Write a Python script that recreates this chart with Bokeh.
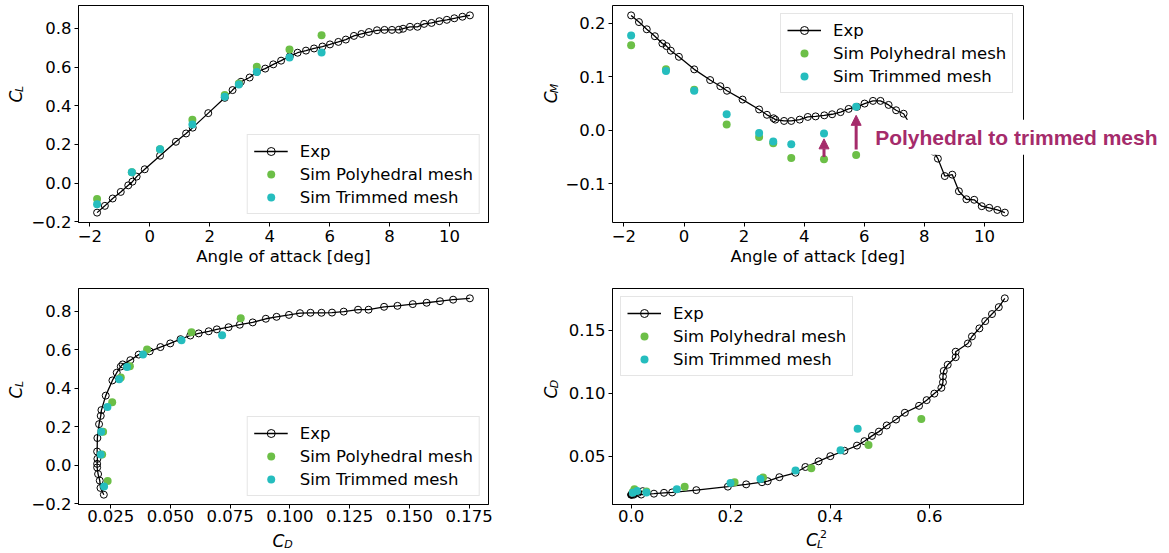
import numpy as np
from bokeh.plotting import figure
from bokeh.layouts import column, row
from bokeh.models import Range1d, FixedTicker, Label, Arrow, NormalHead, Span, LinearAxis, Title
from bokeh.embed import file_html
from bokeh.resources import INLINE

# ---------------- data ----------------
exp_alpha = [-1.76, -1.50, -1.24, -0.97, -0.72, -0.58, -0.44, -0.17, 0.34, 0.87, 1.21, 1.43, 1.95, 2.50,
             2.76, 2.98, 3.04, 3.33, 3.57, 3.85, 4.12, 4.38, 4.67, 4.93, 5.21, 5.48, 5.76, 6.01, 6.29, 6.54,
             6.81, 7.06, 7.31, 7.58, 7.83, 8.08, 8.31, 8.45, 8.68, 8.93, 9.15, 9.40, 9.66, 9.91, 10.16,
             10.43, 10.68]
exp_cl = [-0.152, -0.117, -0.079, -0.045, -0.011, 0.008, 0.034, 0.072, 0.142, 0.214, 0.257, 0.287, 0.362,
          0.441, 0.481, 0.513, 0.524, 0.546, 0.575, 0.592, 0.614, 0.633, 0.655, 0.674, 0.685, 0.696, 0.706,
          0.717, 0.730, 0.742, 0.761, 0.771, 0.781, 0.790, 0.792, 0.792, 0.793, 0.798, 0.808, 0.808, 0.823,
          0.828, 0.837, 0.844, 0.852, 0.860, 0.867]
exp_cm = [0.215, 0.2025, 0.189, 0.176, 0.1625, 0.1575, 0.149, 0.1375, 0.114, 0.094, 0.0825, 0.074, 0.0575,
          0.039, 0.029, 0.0225, 0.020, 0.0175, 0.0175, 0.020, 0.025, 0.026, 0.028, 0.030, 0.034, 0.040,
          0.044, 0.050, 0.055, 0.055, 0.0475, 0.0375, 0.031, 0.006, -0.012, -0.028, -0.040, -0.053,
          -0.0856, -0.083, -0.114, -0.129, -0.130, -0.142, -0.145, -0.149, -0.154]
exp_cd = [0.0221, 0.0207, 0.0204, 0.0197, 0.0193, 0.0193, 0.0194, 0.0193, 0.0194, 0.0201, 0.0208, 0.0211,
          0.0229, 0.0257, 0.0275, 0.0292, 0.0300, 0.0332, 0.0367, 0.0413, 0.0458, 0.0499, 0.0542, 0.0583,
          0.0618, 0.0660, 0.0694, 0.0743, 0.0790, 0.0844, 0.0899, 0.0944, 0.0996, 0.1042, 0.1086, 0.1132,
          0.1176, 0.1225, 0.1285, 0.1329, 0.1394, 0.1450, 0.1514, 0.1572, 0.1628, 0.1683, 0.1753]

sim_alpha = [-1.76, -0.60, 0.34, 1.42, 2.50, 2.97, 3.57, 4.66, 5.73]
poly_cl = [-0.081, 0.057, 0.175, 0.328, 0.456, 0.515, 0.602, 0.691, 0.764]
poly_cm = [0.159, 0.114, 0.076, 0.011, -0.0125, -0.024, -0.052, -0.054, -0.046]
poly_cd = [0.0237, 0.0214, 0.0218, 0.0256, 0.0292, 0.0330, 0.0402, 0.0588, 0.0794]
trim_cl = [-0.109, 0.057, 0.175, 0.303, 0.447, 0.510, 0.575, 0.649, 0.675]
trim_cm = [0.1775, 0.111, 0.074, 0.030, -0.005, -0.021, -0.026, -0.006, 0.044]
trim_cd = [0.0222, 0.0208, 0.0210, 0.0236, 0.0285, 0.0318, 0.0385, 0.0546, 0.0716]

exp_cl2 = [c * c for c in exp_cl]
poly_cl2 = [c * c for c in poly_cl]
trim_cl2 = [c * c for c in trim_cl]

alpha_ticks = [-2, 0, 2, 4, 6, 8, 10]
cl_ticks = [-0.2, 0.0, 0.2, 0.4, 0.6, 0.8]
cm_ticks = [-0.1, 0.0, 0.1, 0.2]
cd_ticks = [0.025, 0.05, 0.075, 0.1, 0.125, 0.15, 0.175]
cl2_ticks = [0.0, 0.2, 0.4, 0.6]
cd_ticks_y = [0.05, 0.10, 0.15]

arrow_alpha = [4.66, 5.73]
arrow_from = [-0.050, -0.036]
arrow_to = [-0.016, 0.028]

# ---------------- style ----------------
GREEN = "#6CBF47"
TEAL = "#25BDBE"
MAG = "#A52B6B"
FONT = "DejaVu Sans"
FS = "16.5px"


def fmt(v, nd):
    return f"{v:.{nd}f}".replace("-", "\u2212")


def make_fig(w, h, bl, br, bt, bb, xr, yr, xt, yt, xnd, ynd, xlabel=None, xstand=3):
    p = figure(width=w, height=h, x_range=Range1d(*xr), y_range=Range1d(*yr),
               output_backend="svg", toolbar_location=None,
               min_border_left=bl, min_border_right=br, min_border_top=bt, min_border_bottom=bb)
    p.grid.visible = False
    p.outline_line_color = "black"
    p.outline_line_alpha = 1
    p.outline_line_width = 1
    p.background_fill_color = "white"
    p.border_fill_color = "white"
    for ax in p.axis:
        ax.major_tick_in = 0
        ax.major_tick_out = 4
        ax.minor_tick_in = 0
        ax.minor_tick_out = 0
        ax.axis_line_color = "black"
        ax.major_tick_line_color = "black"
        ax.major_label_text_font = FONT
        ax.major_label_text_font_size = FS
        ax.major_label_text_color = "black"
        ax.major_label_standoff = 3
        ax.axis_label_text_font = FONT
        ax.axis_label_text_font_size = FS
        ax.axis_label_text_font_style = "normal"
        ax.axis_label_text_color = "black"
        ax.axis_label_standoff = 2
    p.xaxis.major_label_standoff = xstand
    p.xaxis.ticker = FixedTicker(ticks=xt)
    p.yaxis.ticker = FixedTicker(ticks=yt)
    p.xaxis.major_label_overrides = {t: fmt(t, xnd) for t in xt}
    p.yaxis.major_label_overrides = {t: fmt(t, ynd) for t in yt}
    if xlabel:
        p.xaxis.axis_label = xlabel
    return p


def draw(p, ex, ey, px_, py_, tx, ty, loc):
    p.line(ex, ey, line_color="black", line_width=1.3, legend_label="Exp")
    p.scatter(ex, ey, marker="circle", size=7, fill_color=None, line_color="black",
              line_width=1, legend_label="Exp")
    p.scatter(px_, py_, marker="circle", size=8, fill_color=GREEN, line_color=None,
              legend_label="Sim Polyhedral mesh")
    p.scatter(tx, ty, marker="circle", size=8, fill_color=TEAL, line_color=None,
              legend_label="Sim Trimmed mesh")
    lg = p.legend[0]
    lg.location = loc
    lg.margin = 8
    lg.padding = 6
    lg.spacing = 3
    lg.glyph_width = 34
    lg.glyph_height = 20
    lg.label_height = 20
    lg.label_standoff = 12
    lg.label_text_font = FONT
    lg.label_text_font_size = FS
    lg.label_text_color = "black"
    lg.border_line_color = "#cccccc"
    lg.border_line_width = 1
    lg.background_fill_alpha = 0.8


def strip(w, h, items):
    """A bare canvas that only holds the axis titles (math-style C with sub/superscripts)."""
    s = figure(width=w, height=h, x_range=Range1d(0, w), y_range=Range1d(h, 0),
               output_backend="svg", toolbar_location=None,
               x_axis_location=None, y_axis_location=None,
               min_border_left=0, min_border_right=0, min_border_top=0, min_border_bottom=0)
    s.grid.visible = False
    s.outline_line_color = None
    s.background_fill_color = "white"
    s.border_fill_color = "white"
    for (x, y, t, size, rot, italic) in items:
        s.add_layout(Label(x=x, y=y, text=t, text_font=FONT, text_font_size=size,
                           text_font_style="italic" if italic else "normal", text_color="black",
                           text_align="center", text_baseline="middle",
                           angle=(np.pi / 2 if rot else 0)))
    return s


XR_A = (-2.38, 11.30)
XR_A2 = (-2.38, -2.38 + 13.68 * 557 / 411)   # frame of p2 extends right so the callout can overflow
YR_CL = (-0.203, 0.918)
YR_CM = (-0.1725, 0.2335)
XR_CD = (0.0115, 0.1831)
XR_CL2 = (-0.0376, 0.7893)
YR_CD = (0.0115, 0.1831)

# top-left: CL vs alpha
p1 = make_fig(512, 280, 49, 52, 5, 58, XR_A, YR_CL, alpha_ticks, cl_ticks, 0, 1, "Angle of attack [deg]")
draw(p1, exp_alpha, exp_cl, sim_alpha, poly_cl, sim_alpha, trim_cl, "bottom_right")

# top-right: CM vs alpha
p2 = make_fig(607, 280, 50, 0, 5, 58, XR_A2, YR_CM, alpha_ticks, cm_ticks, 0, 1)
p2.outline_line_color = None
p2.xaxis.bounds = XR_A
top_ax = LinearAxis(ticker=FixedTicker(ticks=[]), bounds=XR_A, axis_line_color="black",
                    major_tick_in=0, major_tick_out=0, minor_tick_in=0, minor_tick_out=0,
                    major_label_text_font_size="0px", major_label_standoff=0)
p2.add_layout(top_ax, "above")
p2.add_layout(Title(text="Angle of attack [deg]", align="left", offset=118, standoff=1,
                    text_font=FONT, text_font_size=FS, text_font_style="normal",
                    text_color="black"), "below")
p2.add_layout(Span(location=XR_A[1], dimension="height", line_color="black", line_width=1))
draw(p2, exp_alpha, exp_cm, sim_alpha, poly_cm, sim_alpha, trim_cm, (168, 129))
for a, y0, y1 in zip(arrow_alpha, arrow_from, arrow_to):
    p2.add_layout(Arrow(end=NormalHead(size=10, fill_color=MAG, line_color=MAG, line_width=1),
                        x_start=a, y_start=y0, x_end=a, y_end=y1,
                        line_color=MAG, line_width=3))
p2.add_layout(Label(x=arrow_alpha[1], y=-0.013, x_offset=13, text="Polyhedral to trimmed mesh",
                    text_font="Liberation Sans", text_font_style="bold", text_font_size="21px",
                    text_color=MAG, text_align="left", text_baseline="middle",
                    background_fill_color="white", background_fill_alpha=1.0, padding=6))

# bottom-left: CL vs CD
p3 = make_fig(512, 249, 49, 52, 8, 25, XR_CD, YR_CL, cd_ticks, cl_ticks, 3, 1, xstand=1)
draw(p3, exp_cd, exp_cl, poly_cd, poly_cl, trim_cd, trim_cl, "bottom_right")

# bottom-right: CD vs CL^2
p4 = make_fig(607, 249, 50, 146, 8, 25, XR_CL2, YR_CD, cl2_ticks, cd_ticks_y, 1, 2, xstand=1)
draw(p4, exp_cl2, exp_cd, poly_cl2, poly_cd, trim_cl2, trim_cd, "top_left")

# axis titles
s1 = strip(28, 280, [(15, 117.5, "C", "17px", True, True), (18.5, 107.5, "L", "11px", True, True)])
s2 = strip(22, 280, [(10, 118.5, "C", "17px", True, True), (13.5, 107, "M", "11px", True, True)])
s3 = strip(28, 249, [(15, 120, "C", "17px", True, True), (18.5, 110, "L", "11px", True, True)])
s4 = strip(22, 249, [(10, 120, "C", "17px", True, True), (13.5, 110, "D", "11px", True, True)])
b3 = strip(540, 24, [(278, 11, "C", "17px", False, True), (288, 15, "D", "11px", False, True)])
b4 = strip(629, 24, [(271.5, 10, "C", "17px", False, True), (279.5, 14.5, "L", "11px", False, True),
                     (283, 4.5, "2", "11px", False, False)])

layout = column(row(s1, p1, s2, p2), row(s3, p3, s4, p4), row(b3, b4))
open("out.html", "w").write(file_html(layout, INLINE))
